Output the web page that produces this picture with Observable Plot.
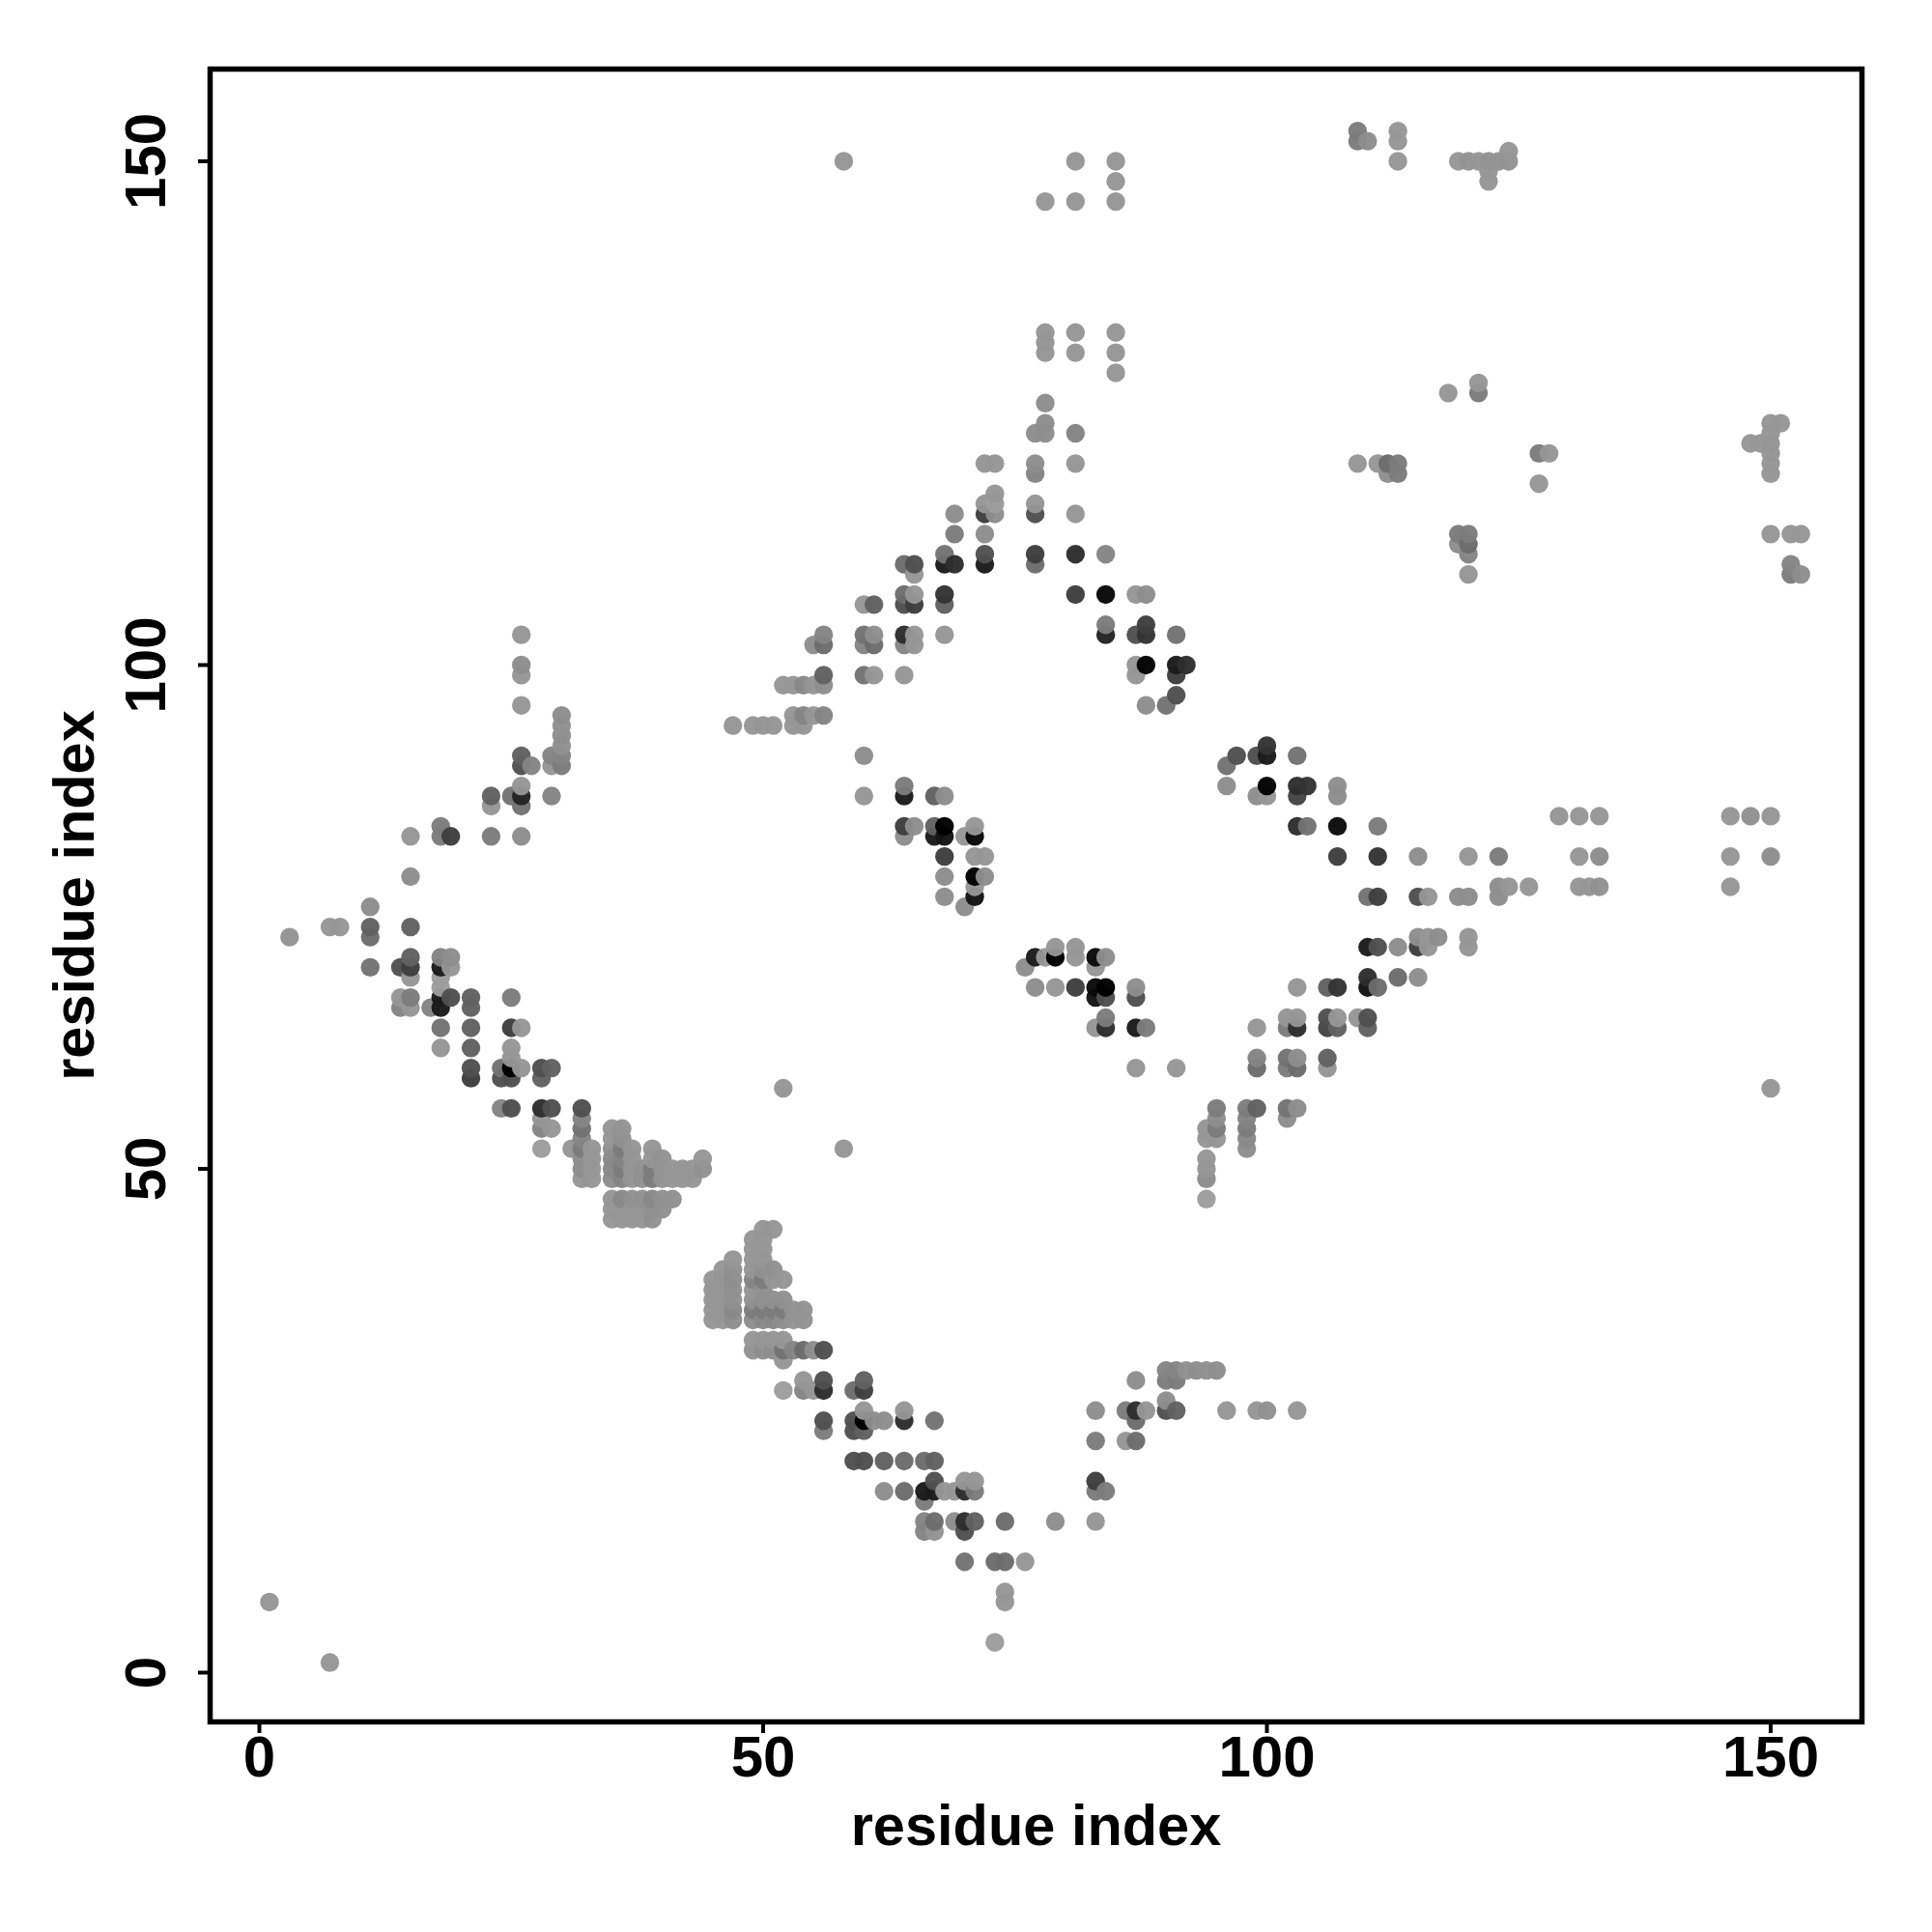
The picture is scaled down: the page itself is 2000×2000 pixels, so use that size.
<!DOCTYPE html>
<html>
<head>
<meta charset="utf-8">
<style>html,body{margin:0;padding:0;background:#fff}svg{display:block}</style>
<script src="https://cdn.jsdelivr.net/npm/d3@7"></script>
<script src="https://cdn.jsdelivr.net/npm/@observablehq/plot@0.6"></script>
</head>
<body>
<div id="chart"></div>
<script>
const xTicks = [0, 50, 100, 150];
const yTicks = [0, 50, 100, 150];
const xLabel = "residue index";
const yLabel = "residue index";

// [residue x, residue y, displayed gray level]
const leftArm = [
[3,73,150],[7,74,153],[8,74,153],[11,76,143],[11,74,102],[11,73,112],[11,70,119],
[14,70,85],[15,70,68],[15,71,102],[15,69,153],[15,74,102],[18,71,136],[18,70,34],[19,71,144],[19,70,153],
[18,69,160],[18,68,160],[14,67,153],[15,67,128],[14,66,136],[15,66,153],[17,66,136],[18,67,34],[18,66,34],[19,67,85],
[21,67,102],[21,66,102],[25,67,128],[18,64,119],[21,64,102],[25,64,68],[26,64,153],[18,62,153],[21,62,102],[25,62,153],
[25,61,153],[21,60,85],[21,59,68],[24,60,119],[24,59,85],[25,60,0],[25,59,85],[26,60,153],[28,60,85],[29,60,102],[28,59,102],
[24,56,136],[25,56,85],[28,56,51],[29,56,85],[28,55,153],[28,54,136],[29,54,153],[28,52,160],[31,52,153],
[32,56,85],[32,55,136],[32,54,119],[32,53,136],[32,52,128],[32,51,144],[32,50,144],[32,49,153],
[33,52,153],[33,51,153],[33,50,153],[33,49,153],
[15,83,153],[15,79,144],[18,84,128],[18,83,128],[19,83,68],[23,87,102],[23,86,153],[23,83,128],[25,87,119],
[26,103,153],[26,100,144],[26,99,153],[26,96,153],[26,91,102],[26,90,85],[27,90,136],[26,88,153],[26,87,42],[26,86,119],[26,83,144],
[29,91,136],[29,90,153],[29,87,136],[30,95,144],[30,94,148],[30,93,144],[30,92,148],[30,91,136],[30,90,128]
];
const upperCluster = [
[35,54,153],[35,53,153],[35,52,144],[35,51,140],[35,50,140],[35,49,144],
[36,54,150],[36,53,148],[36,52,128],[36,51,136],[36,50,128],[36,49,136],
[37,52,153],[37,51,153],[37,50,153],[37,49,153],[38,50,148],[38,49,148],
[39,52,153],[39,51,153],[39,50,128],[39,49,128],[40,51,150],[40,50,150],[40,49,150],
[41,50,153],[41,49,153],[42,50,153],[42,49,153],[43,50,153],[43,49,153],[44,51,153],[44,50,148],
[35,47,153],[35,46,153],[35,45,153],[36,47,140],[36,46,153],[36,45,153],[37,47,148],[37,46,153],[37,45,153],
[38,47,148],[38,46,153],[38,45,153],[39,47,140],[39,46,148],[39,45,148],[40,47,148],[40,46,148],[41,47,148]
];
const lowerCluster = [
[45,39,153],[45,38,153],[45,37,153],[45,36,153],[45,35,153],
[46,40,153],[46,39,153],[46,38,153],[46,37,153],[46,36,153],[46,35,153],
[47,41,153],[47,40,148],[47,39,144],[47,38,148],[47,37,148],[47,36,140],[47,35,144],
[49,43,153],[49,42,153],[49,41,153],[49,40,153],[49,39,136],[49,38,153],[49,37,148],[49,36,128],[49,35,144],
[50,44,153],[50,43,153],[50,42,153],[50,41,153],[50,40,148],[50,39,128],[50,38,148],[50,37,148],[50,36,128],[50,35,140],
[51,44,153],[51,40,148],[51,39,153],[51,37,148],[51,36,128],[51,35,140],
[52,39,153],[52,37,148],[52,36,128],[52,35,144],[53,36,150],[53,35,150],[54,36,150],[54,35,150],
[49,33,153],[49,32,148],[50,33,153],[50,32,144],[51,33,153],[51,32,144],[52,33,153],[52,32,119],[52,31,153],
[53,32,136],[54,32,112],[55,32,144],[56,32,85]
];
const lowerArm = [
[52,28,160],[54,29,153],[54,28,136],[55,28,153],[56,29,85],[56,28,51],[59,28,112],[60,29,102],[60,28,68],
[60,26,153],[59,25,85],[59,24,85],[60,25,0],[60,24,102],[61,25,144],[62,25,144],[64,26,153],[64,25,51],[67,25,119],
[56,25,85],[56,24,128],
[59,21,85],[60,21,85],[62,21,102],[64,21,112],[66,21,112],[67,21,102],
[62,18,144],[64,18,112],[66,18,34],[67,19,85],[67,18,34],[66,17,128],[68,18,153],[69,18,153],[70,19,153],[70,18,51],[71,19,153],[71,18,128],
[66,15,136],[66,14,136],[67,15,112],[67,14,150],[69,15,144],[70,15,51],[70,14,85],[71,15,102],
[74,15,112],[79,15,144],[83,15,153],[70,11,119],[73,11,112],[74,11,112],[76,11,153],[74,8,153],[74,7,153],[73,3,160],
[83,26,144],[83,23,128],[83,19,68],[83,18,128],[84,18,128],[86,26,128],[87,26,51],[88,26,153],[87,25,112],[86,23,153],[87,23,112],[87,29,144],
[90,30,136],[91,30,136],[92,30,148],[93,30,144],[94,30,148],[95,30,144],[90,29,128],[91,29,128],[90,27,144],[90,26,85],[91,26,102],
[96,26,153],[99,26,153],[100,26,148],[103,26,153]
];
const upperChain = [
[47,94,153],[49,94,153],[50,94,153],[51,94,153],[53,94,153],[54,94,153],[53,95,153],[54,95,136],[55,95,153],[56,95,136],
[52,98,153],[53,98,153],[54,98,140],[55,98,153],[56,98,144],[56,99,102],[55,102,144],[56,102,112],[56,103,136],
[60,91,144],[60,87,153],[60,99,119],[61,99,153],[64,99,153],[60,103,119],[61,103,144],[60,102,136],[61,102,112],
[60,106,153],[61,106,102],[64,103,51],[65,103,153],[64,102,136],[65,102,153],[68,103,153],
[64,107,112],[65,107,153],[64,106,85],[65,106,68],[68,107,58],[68,106,102],
[64,110,112],[65,110,85],[65,109,153],[68,111,119],[68,110,34],[69,110,51],[69,113,128],[69,115,144],
[72,120,153],[73,120,153],[72,116,153],[73,116,160],[73,117,153],[72,115,68],[73,115,144],[72,113,144],[72,111,85],[72,110,34],
[77,123,144],[78,123,144],[78,124,144],[78,126,144],[77,120,144],[77,119,136],[77,116,153],[77,115,85],[77,111,68],[77,110,112],
[78,133,153],[78,132,153],[78,131,153],[81,133,153],[81,131,153],[85,133,153],[85,131,153],[85,129,153],
[81,123,136],[81,120,153],[81,115,153],[81,111,51],[81,107,68],[84,111,136],[84,107,15],[87,107,153],[88,107,144],
[84,104,128],[84,103,42],[87,103,85],[88,104,68],[88,103,58],[91,103,119],
[87,100,153],[87,99,153],[88,100,10],[91,100,34],[92,100,51],[91,99,68],[91,97,85],[90,96,119],[88,96,144],
[58,150,153],[78,146,153],[81,146,153],[85,146,153],[85,148,153],[81,150,153],[85,150,153]
];
const innerBlocks = [
[64,88,128],[64,87,34],[67,87,102],[68,87,144],[64,84,68],[65,84,144],[64,83,144],[67,84,102],[68,84,0],[67,83,34],[68,83,26],
[70,83,153],[71,84,153],[71,83,15],[68,81,68],[71,81,153],[72,81,153],[68,79,144],[71,79,0],[72,79,144],[71,78,153],[68,77,144],[71,77,26],[70,76,144],
[76,70,144],[77,71,34],[78,71,153],[79,72,153],[79,71,0],[81,72,153],[81,71,153],[83,71,17],[84,71,144],[83,70,153],
[77,68,144],[79,68,153],[81,68,68],[83,68,17],[84,68,0],[83,67,26],[84,67,85],[87,68,144],[87,67,85],
[84,65,128],[84,64,51],[83,64,153],[87,64,34],[88,64,128],[87,60,153],[91,60,153],
[58,52,153],[52,58,153],[150,58,153],[1,7,153],[7,1,153]
];
const rightChain = [
[96,90,119],[97,91,85],[96,88,144],[99,91,85],[100,92,58],[100,91,34],[103,91,119],
[99,87,144],[100,88,10],[100,87,153],[103,88,51],[104,88,58],[103,87,74],[107,88,144],[107,87,144],
[103,84,51],[104,84,119],[107,84,17],[111,84,128],[107,81,68],[111,81,58],[115,81,144],[120,81,153],[123,81,128],
[110,77,119],[111,77,68],[115,77,85],[116,77,153],[119,77,144],[120,77,144],[123,78,144],[123,77,144],[124,78,153],[126,78,153],
[110,72,34],[111,72,85],[113,72,144],[115,73,144],[115,72,68],[116,73,153],[116,72,153],[117,73,144],[120,73,153],[120,72,153],
[110,69,51],[110,68,26],[111,68,112],[113,69,112],[115,69,144],[103,68,153],[106,68,102],[107,68,58],
[99,64,153],[102,65,153],[103,65,153],[102,64,128],[103,64,51],[106,65,85],[107,65,153],[106,64,74],[107,64,102],[109,65,153],[110,65,85],[110,64,102],
[99,61,136],[99,60,112],[102,61,119],[103,61,144],[102,60,128],[103,60,112],[106,61,102],[106,60,153],
[95,56,128],[95,55,144],[95,54,128],[95,53,153],[94,54,153],[94,53,153],[94,51,153],[94,50,153],[94,49,144],[94,47,160],
[98,56,128],[99,56,102],[98,55,136],[98,54,128],[98,53,140],[98,52,144],[102,56,119],[103,56,144],[102,55,144]
];
const farField = [
[129,85,153],[131,85,153],[133,85,153],[146,85,153],[148,85,148],[150,85,153],
[131,81,153],[133,81,144],[146,81,153],[150,81,144],[131,78,153],[132,78,153],[133,78,148],[146,78,153],
[109,153,128],[109,152,128],[110,152,144],[113,153,153],[113,152,153],[113,150,153],
[119,150,153],[120,150,150],[121,150,153],[122,150,150],[123,150,150],[124,150,150],[124,151,153],[122,149,153],[122,148,153],
[118,127,153],[121,128,153],[121,127,128],
[109,120,153],[111,120,153],[112,120,112],[113,120,128],[112,119,144],[113,119,128],
[127,121,128],[128,121,153],[127,118,153],
[150,124,153],[151,124,153],[148,122,153],[149,122,153],[150,123,153],[150,122,153],[150,121,153],[150,120,153],[150,119,153],
[119,113,128],[120,113,128],[119,112,144],[120,112,112],[120,111,136],[120,109,153],
[150,113,153],[152,113,153],[153,113,153],[152,110,136],[152,109,128],[153,109,144]
];

const dotOpacity = 0.97;
const contacts = d3.sort(
  [...leftArm, ...upperCluster, ...lowerCluster, ...lowerArm, ...upperChain, ...innerBlocks, ...rightChain, ...farField],
  d => d[0], d => d[1]
);
const toFill = t => {
  const v = Math.max(0, Math.round((t - 255 * (1 - dotOpacity)) / dotOpacity));
  return `rgb(${v},${v},${v})`;
};

const chart = Plot.plot({
  width: 2000,
  height: 2000,
  marginLeft: 217,
  marginRight: 73,
  marginTop: 71,
  marginBottom: 218,
  style: {background: "#fff", fontFamily: "'Liberation Sans', Arial, sans-serif"},
  x: {domain: [-4.89, 159.06]},
  y: {domain: [-4.89, 159.15]},
  marks: [
    Plot.dot(contacts, {x: d => d[0], y: d => d[1], r: 9.7, fill: d => toFill(d[2]), fillOpacity: dotOpacity, stroke: "none"}),
    Plot.frame({stroke: "#000", strokeWidth: 5.5}),
    Plot.axisX({ticks: xTicks, tickFormat: d => String(d), tickSize: 12, tickPadding: 2, strokeWidth: 4,
      fontSize: 60, fontWeight: "bold", fill: "#000", label: null}),
    Plot.axisY({ticks: yTicks, tickFormat: d => String(d), tickSize: 12, tickPadding: 35, tickRotate: -90, strokeWidth: 4,
      fontSize: 60, fontWeight: "bold", fill: "#000", label: null, textAnchor: "middle", lineAnchor: "bottom"}),
    Plot.axisX({ticks: [], tickSize: 0, label: xLabel, labelAnchor: "center", labelArrow: "none", labelOffset: 127,
      fontSize: 59.5, fontWeight: "bold", fill: "#000"}),
    Plot.axisY({ticks: [], tickSize: 0, label: yLabel, labelAnchor: "center", labelArrow: "none", labelOffset: 163,
      fontSize: 59.5, fontWeight: "bold", fill: "#000"})
  ]
});
document.getElementById("chart").appendChild(chart);
</script>
</body>
</html>
